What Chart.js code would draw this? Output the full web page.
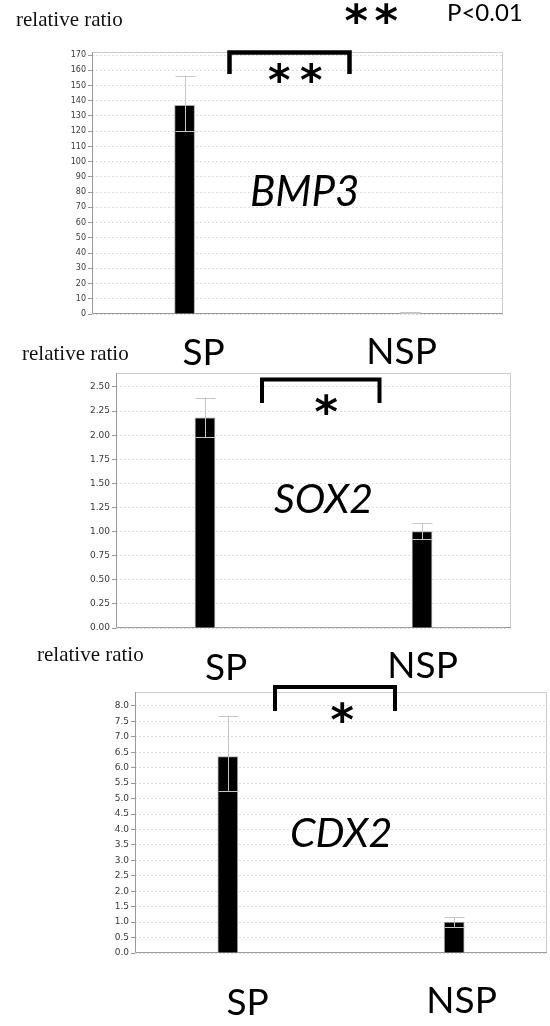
<!DOCTYPE html>
<html>
<head>
<meta charset="utf-8">
<script src="https://cdn.jsdelivr.net/npm/chart.js@4.4.1/dist/chart.umd.min.js"></script>
<style>
  html, body { margin: 0; padding: 0; background: #fff; }
  body { width: 550px; height: 1026px; position: relative; overflow: hidden; }
  canvas { position: absolute; left: 0; }
</style>
</head>
<body>
<canvas id="bmp3" width="550" height="335" style="top:0px"></canvas>
<canvas id="sox2" width="550" height="310" style="top:335px"></canvas>
<canvas id="cdx2" width="550" height="381" style="top:645px"></canvas>
<script>
// Groups compared in every panel
const groups = ['SP', 'NSP'];
const groupPos = [0, 1];

// BMP3 relative expression (mean, upper / lower error)
const bmp3Mean = [137, 1.0];
const bmp3ErrUp = [19.5, 0.1];
const bmp3ErrDown = [17, 0.1];
const bmp3Ticks = [0, 10, 20, 30, 40, 50, 60, 70, 80, 90, 100, 110, 120, 130, 140, 150, 160, 170];

// SOX2 relative expression
const sox2Mean = [2.18, 1.0];
const sox2ErrUp = [0.21, 0.09];
const sox2ErrDown = [0.20, 0.08];
const sox2Ticks = [0, 0.25, 0.5, 0.75, 1.0, 1.25, 1.5, 1.75, 2.0, 2.25, 2.5];

// CDX2 relative expression
const cdx2Mean = [6.36, 1.0];
const cdx2ErrUp = [1.32, 0.16];
const cdx2ErrDown = [1.11, 0.15];
const cdx2Ticks = [0, 0.5, 1, 1.5, 2, 2.5, 3, 3.5, 4, 4.5, 5, 5.5, 6, 6.5, 7, 7.5, 8];

const LABEL_FONT = 'Lato, "Open Sans", sans-serif';
const SERIF_FONT = '"Liberation Serif", "DejaVu Serif", serif';
const STAR_FONT = '"DejaVu Sans", sans-serif';

// Gray error whiskers with caps as wide as the bar
const errorBars = {
  id: 'errorBars',
  afterDatasetsDraw(chart, args, opts) {
    const ctx = chart.ctx, y = chart.scales.y;
    const meta = chart.getDatasetMeta(0);
    ctx.save();
    ctx.strokeStyle = opts.color;
    ctx.lineWidth = 1;
    meta.data.forEach((bar, i) => {
      const v = chart.data.datasets[0].data[i].y;
      const hi = y.getPixelForValue(v + opts.up[i]);
      const lo = y.getPixelForValue(v - opts.down[i]);
      const half = bar.width / 2;
      const x = Math.round(bar.x) + 0.5;
      ctx.beginPath();
      ctx.moveTo(x, hi); ctx.lineTo(x, lo);
      ctx.moveTo(x - half, Math.round(hi) + 0.5); ctx.lineTo(x + half, Math.round(hi) + 0.5);
      ctx.moveTo(x - half, Math.round(lo) + 0.5); ctx.lineTo(x + half, Math.round(lo) + 0.5);
      ctx.stroke();
    });
    ctx.restore();
  }
};

// Plot frame: darker axes on left/bottom, light border on top/right
const plotFrame = {
  id: 'plotFrame',
  beforeDatasetsDraw(chart) {
    const { ctx, chartArea: a } = chart;
    ctx.save();
    ctx.lineWidth = 1;
    ctx.strokeStyle = '#cdcdcd';
    ctx.beginPath();
    ctx.moveTo(a.left, a.top + 0.5); ctx.lineTo(a.right - 0.5, a.top + 0.5); ctx.lineTo(a.right - 0.5, a.bottom);
    ctx.stroke();
    ctx.strokeStyle = '#9a9a9a';
    ctx.beginPath();
    ctx.moveTo(a.left + 0.5, a.top); ctx.lineTo(a.left + 0.5, a.bottom - 0.5); ctx.lineTo(a.right, a.bottom - 0.5);
    ctx.stroke();
    ctx.restore();
  }
};

// Labels, significance brackets and asterisks around each plot
const decorations = {
  id: 'decorations',
  afterDraw(chart, args, opts) {
    const ctx = chart.ctx, top = opts.offsetTop;
    ctx.save();
    ctx.fillStyle = '#000';
    ctx.strokeStyle = '#000';
    (opts.items || []).forEach(it => {
      if (it.type === 'bracket') {
        ctx.lineWidth = it.lw;
        ctx.lineJoin = 'miter';
        ctx.lineCap = 'butt';
        ctx.beginPath();
        ctx.moveTo(it.x1, it.yBottom - top);
        ctx.lineTo(it.x1, it.yTop - top);
        ctx.lineTo(it.x2, it.yTop - top);
        ctx.lineTo(it.x2, it.yBottom - top);
        ctx.stroke();
      } else if (it.type === 'star') {
        // size the glyph to the requested ink width, then center its ink box
        ctx.font = `bold 100px ${STAR_FONT}`;
        let m = ctx.measureText(it.text);
        const size = 100 * it.w / (m.actualBoundingBoxLeft + m.actualBoundingBoxRight);
        ctx.font = `bold ${size}px ${STAR_FONT}`;
        m = ctx.measureText(it.text);
        ctx.textAlign = 'left';
        ctx.textBaseline = 'alphabetic';
        const iw = m.actualBoundingBoxLeft + m.actualBoundingBoxRight;
        const ih = m.actualBoundingBoxAscent + m.actualBoundingBoxDescent;
        const x = it.cx - iw / 2 + m.actualBoundingBoxLeft;
        const y = it.cy - top - ih / 2 + m.actualBoundingBoxAscent;
        ctx.fillText(it.text, x, y);
      } else {
        ctx.font = it.font;
        ctx.fillStyle = it.color || '#000';
        ctx.textBaseline = 'alphabetic';
        ctx.textAlign = 'left';
        if (it.cx !== undefined) {
          const m = ctx.measureText(it.text);
          const iw = m.actualBoundingBoxLeft + m.actualBoundingBoxRight;
          ctx.fillText(it.text, it.cx - iw / 2 + m.actualBoundingBoxLeft, it.baseline - top);
        } else {
          ctx.fillText(it.text, it.left, it.baseline - top);
        }
        ctx.fillStyle = '#000';
      }
    });
    ctx.restore();
  }
};

function makeChart(id, cfg) {
  const points = groupPos.map((p, i) => ({ x: p, y: cfg.mean[i] }));
  return new Chart(document.getElementById(id), {
    type: 'bar',
    data: {
      labels: groups,
      datasets: [{
        data: points,
        backgroundColor: '#000',
        borderColor: '#a8a8a8',
        borderWidth: 1,
        borderSkipped: 'bottom',
        barThickness: 20
      }]
    },
    options: {
      responsive: false,
      animation: false,
      events: [],
      layout: { padding: { left: 0, right: cfg.padRight, top: cfg.padTop, bottom: cfg.padBottom } },
      plugins: {
        legend: { display: false },
        tooltip: { enabled: false },
        errorBars: { up: cfg.up, down: cfg.down, color: '#c6c6c6' },
        decorations: { offsetTop: cfg.offsetTop, items: cfg.items }
      },
      scales: {
        x: { type: 'linear', min: -0.41, max: 1.41, offset: false, display: false },
        y: {
          min: 0,
          max: cfg.yMax,
          afterBuildTicks: s => { s.ticks = cfg.ticks.map(v => ({ value: v })); },
          afterFit: s => { s.width = cfg.plotLeft; },
          border: { display: false, dash: [2, 2] },
          grid: {
            color: '#dcdcdc',
            lineWidth: 1,
            tickLength: 4,
            tickColor: '#999',
            tickBorderDash: []
          },
          ticks: {
            padding: 2,
            color: '#3a3a3a',
            font: { family: '"DejaVu Sans", sans-serif', size: cfg.tickSize },
            callback: v => v.toFixed(cfg.decimals)
          }
        }
      }
    },
    plugins: [plotFrame, errorBars, decorations]
  });
}

const serif21 = `21px ${SERIF_FONT}`;
const big = `37px ${LABEL_FONT}`;
const gene = `italic 41px ${LABEL_FONT}`;

makeChart('bmp3', {
  mean: bmp3Mean, up: bmp3ErrUp, down: bmp3ErrDown, ticks: bmp3Ticks,
  yMax: 172, decimals: 0, tickSize: 8,
  plotLeft: 92, padRight: 47, padTop: 52, padBottom: 21, offsetTop: 0,
  items: [
    { text: 'relative ratio', font: serif21, left: 16, baseline: 26, color: '#111' },
    { type: 'star', text: '*', w: 22, cx: 356, cy: 13 },
    { type: 'star', text: '*', w: 22, cx: 386, cy: 13 },
    { text: 'P<0.01', font: `24px ${LABEL_FONT}`, left: 447, baseline: 21 },
    { type: 'bracket', x1: 229.5, x2: 349.5, yTop: 52.5, yBottom: 74, lw: 4.5 },
    { type: 'star', text: '*', w: 21, cx: 279, cy: 73 },
    { type: 'star', text: '*', w: 21, cx: 311, cy: 73 },
    { text: 'BMP3', font: `italic 42px ${LABEL_FONT}`, left: 250, baseline: 206 }
  ]
});

makeChart('sox2', {
  mean: sox2Mean, up: sox2ErrUp, down: sox2ErrDown, ticks: sox2Ticks,
  yMax: 2.645, decimals: 2, tickSize: 9,
  plotLeft: 116, padRight: 39, padTop: 38, padBottom: 17, offsetTop: 335,
  items: [
    { text: 'relative ratio', font: serif21, left: 22, baseline: 360, color: '#111' },
    { text: 'SP', font: big, cx: 204, baseline: 365 },
    { text: 'NSP', font: big, cx: 403, baseline: 364 },
    { type: 'bracket', x1: 262, x2: 379.5, yTop: 379.5, yBottom: 403, lw: 4 },
    { type: 'star', text: '*', w: 22, cx: 326, cy: 404 },
    { text: 'SOX2', font: gene, left: 274, baseline: 513 }
  ]
});

makeChart('cdx2', {
  mean: cdx2Mean, up: cdx2ErrUp, down: cdx2ErrDown, ticks: cdx2Ticks,
  yMax: 8.45, decimals: 1, tickSize: 9,
  plotLeft: 135, padRight: 3, padTop: 47, padBottom: 73, offsetTop: 645,
  items: [
    { text: 'relative ratio', font: serif21, left: 37, baseline: 661, color: '#111' },
    { text: 'SP', font: big, cx: 226.5, baseline: 680 },
    { text: 'NSP', font: big, cx: 424, baseline: 678 },
    { type: 'bracket', x1: 275, x2: 395, yTop: 687, yBottom: 711, lw: 4 },
    { type: 'star', text: '*', w: 22, cx: 342, cy: 712 },
    { text: 'CDX2', font: gene, left: 290, baseline: 847 },
    { text: 'SP', font: big, cx: 248, baseline: 1015 },
    { text: 'NSP', font: big, cx: 463, baseline: 1013 }
  ]
});
</script>
</body>
</html>
